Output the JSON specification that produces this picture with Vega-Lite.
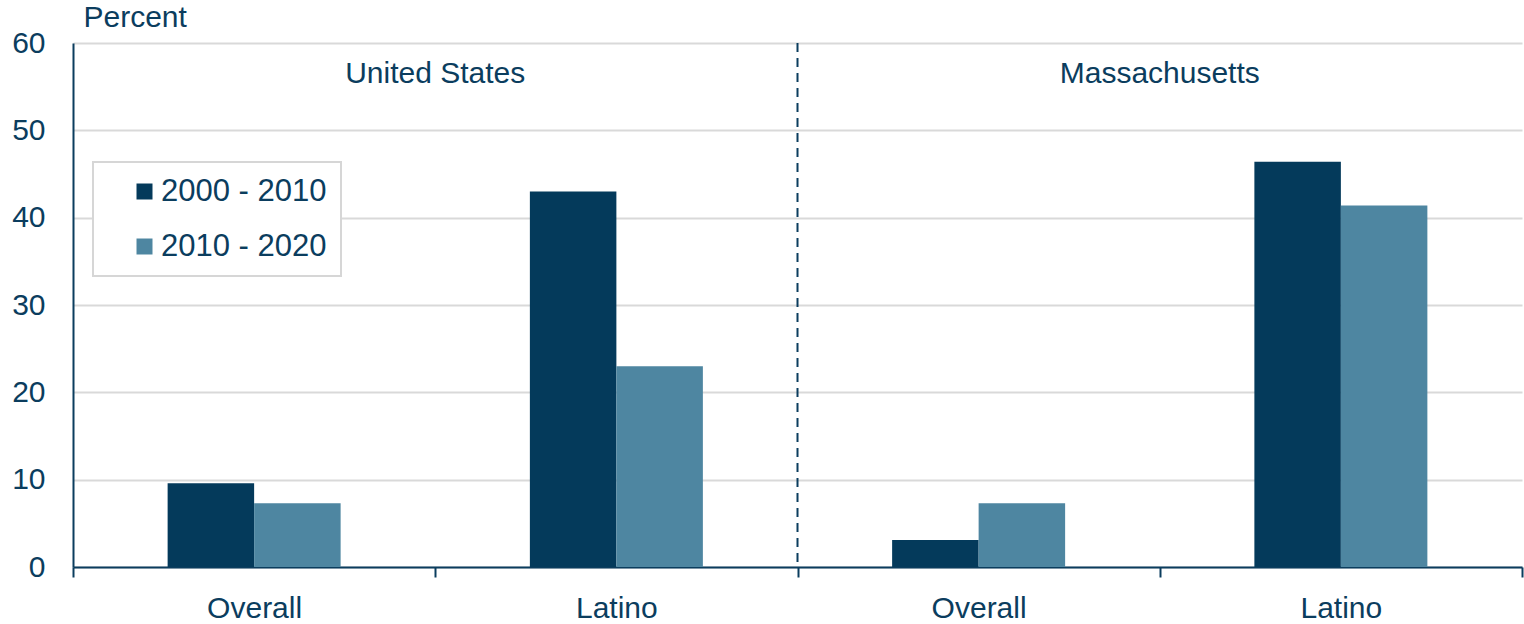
{
  "$schema": "https://vega.github.io/schema/vega-lite/v6.json",
  "width": 1449,
  "height": 524,
  "autosize": "none",
  "padding": {"left": 73, "top": 43, "right": 2, "bottom": 57},
  "background": "white",
  "config": {
    "view": {"stroke": null},
    "font": "Liberation Sans",
    "text": {"font": "Liberation Sans"},
    "legend": {"strokeWidth": 2}
  },
  "datasets": {
    "bars": [
      {"group": "US Overall", "period": "2000 - 2010", "value": 9.6},
      {"group": "US Overall", "period": "2010 - 2020", "value": 7.3},
      {"group": "US Latino", "period": "2000 - 2010", "value": 43.0},
      {"group": "US Latino", "period": "2010 - 2020", "value": 23.0},
      {"group": "MA Overall", "period": "2000 - 2010", "value": 3.1},
      {"group": "MA Overall", "period": "2010 - 2020", "value": 7.3},
      {"group": "MA Latino", "period": "2000 - 2010", "value": 46.4},
      {"group": "MA Latino", "period": "2010 - 2020", "value": 41.4}
    ],
    "panels": [
      {"group": "US Latino", "label": "United States", "pos": 56.5},
      {"group": "MA Latino", "label": "Massachusetts", "pos": 56.5}
    ],
    "divider": [
      {"group": "MA Overall"}
    ]
  },
  "layer": [
    {
      "data": {"name": "bars"},
      "mark": {"type": "bar"},
      "encoding": {
        "x": {
          "field": "group",
          "type": "nominal",
          "scale": {
            "domain": ["US Overall", "US Latino", "MA Overall", "MA Latino"],
            "paddingInner": 0,
            "paddingOuter": 0
          },
          "axis": {
            "title": null,
            "labelExpr": "indexof(datum.label, 'Overall') >= 0 ? 'Overall' : (indexof(datum.label, 'Latino') >= 0 ? 'Latino' : '')",
            "labelAngle": 0,
            "labelFontSize": 30,
            "labelColor": "#0B3D5E",
            "labelPadding": 16,
            "tickBand": "extent",
            "tickSize": 10,
            "tickWidth": 2,
            "tickColor": "#0B3D5E",
            "domainColor": "#0B3D5E",
            "domainWidth": 2,
            "grid": false
          }
        },
        "xOffset": {
          "field": "period",
          "type": "nominal",
          "scale": {
            "domain": ["left gap", "2000 - 2010", "2010 - 2020", "right gap"],
            "paddingInner": 0,
            "paddingOuter": 0.094
          }
        },
        "y": {
          "field": "value",
          "type": "quantitative",
          "scale": {"domain": [0, 60], "nice": false},
          "axis": {
            "title": "Percent",
            "titleAngle": 0,
            "titleAlign": "left",
            "titleBaseline": "middle",
            "titleX": 10,
            "titleY": -26,
            "titleFontSize": 30,
            "titleFontWeight": "normal",
            "titleColor": "#0B3D5E",
            "values": [0, 10, 20, 30, 40, 50, 60],
            "ticks": false,
            "labelPadding": 28,
            "labelFontSize": 30,
            "labelColor": "#0B3D5E",
            "domainColor": "#0B3D5E",
            "domainWidth": 2,
            "gridColor": "#D9D9D9",
            "gridWidth": 2
          }
        },
        "color": {
          "field": "period",
          "type": "nominal",
          "scale": {"domain": ["2000 - 2010", "2010 - 2020"], "range": ["#043A5B", "#4E86A1"]},
          "legend": {
            "title": null,
            "orient": "none",
            "legendX": 20,
            "legendY": 119,
            "fillColor": "white",
            "strokeColor": "#D6D6D6",
            "padding": 14,
            "symbolOffset": 22,
            "symbolType": "square",
            "symbolSize": 256,
            "symbolStrokeWidth": 0,
            "labelFontSize": 31,
            "labelColor": "#0B3D5E",
            "labelOffset": 1,
            "rowPadding": 23,
            "labelLimit": 400
          }
        }
      }
    },
    {
      "data": {"name": "divider"},
      "mark": {"type": "rule", "color": "#0B3D5E", "strokeWidth": 2, "strokeDash": [9, 6]},
      "encoding": {
        "x": {"field": "group", "type": "nominal", "bandPosition": 0}
      }
    },
    {
      "data": {"name": "panels"},
      "mark": {"type": "text", "fontSize": 30, "color": "#0B3D5E", "align": "center", "baseline": "middle"},
      "encoding": {
        "x": {"field": "group", "type": "nominal", "bandPosition": 0},
        "y": {"field": "pos", "type": "quantitative"},
        "text": {"field": "label"}
      }
    }
  ]
}
